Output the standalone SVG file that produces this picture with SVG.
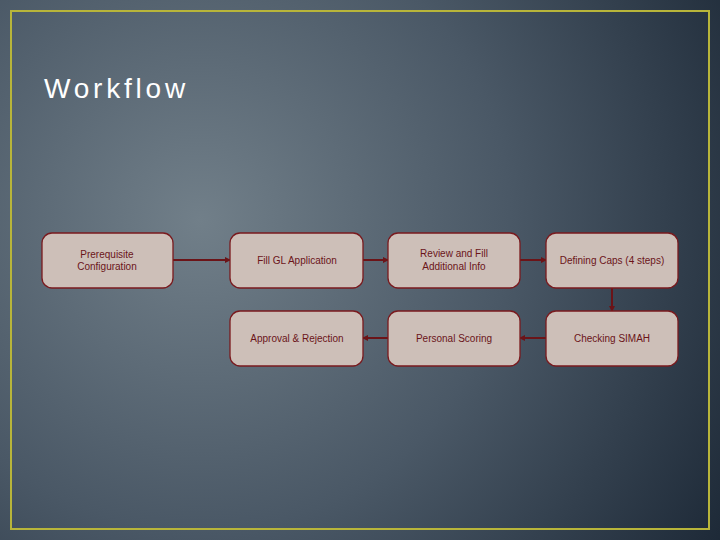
<svg xmlns="http://www.w3.org/2000/svg" width="720" height="540" viewBox="0 0 720 540">
<defs>
<radialGradient id="bg" cx="200" cy="220" r="620" gradientUnits="userSpaceOnUse">
<stop offset="0" stop-color="#717f89"/>
<stop offset="0.5" stop-color="#4a5866"/>
<stop offset="1" stop-color="#1c2836"/>
</radialGradient>
<marker id="ah" markerWidth="6" markerHeight="6" refX="5" refY="3" orient="auto" markerUnits="userSpaceOnUse">
<path d="M0,0 L6,3 L0,6 Z" fill="#6b1418"/>
</marker>
<style>
.n rect{fill:#cdbfb8;stroke:#7a1a1e;stroke-width:1.3}
.n text{font-family:"Liberation Sans",Arial,sans-serif;font-size:10px;fill:#6b1418;text-anchor:middle}
.c line{stroke:#6b1418;stroke-width:2;marker-end:url(#ah)}
</style>
</defs>
<rect width="720" height="540" fill="url(#bg)"/>
<rect x="11" y="11" width="698" height="518" fill="none" stroke="#b8b53a" stroke-width="2"/>
<text x="44" y="98" font-family="Liberation Sans,Arial,sans-serif" font-size="28" fill="#ffffff" letter-spacing="3.8">Workflow</text>
<g class="c">
<line x1="173" y1="260" x2="230" y2="260"/>
<line x1="363" y1="260" x2="388" y2="260"/>
<line x1="520" y1="260" x2="546" y2="260"/>
<line x1="612" y1="288" x2="612" y2="311"/>
<line x1="546" y1="338" x2="520" y2="338"/>
<line x1="388" y1="338" x2="363" y2="338"/>
</g>
<g id="n1" class="n"><rect x="42" y="233" width="131" height="55" rx="10"/><text x="107" y="258">Prerequisite</text><text x="107" y="270">Configuration</text></g>
<g id="n2" class="n"><rect x="230" y="233" width="133" height="55" rx="10"/><text x="297" y="264">Fill GL Application</text></g>
<g id="n3" class="n"><rect x="388" y="233" width="132" height="55" rx="10"/><text x="454" y="257">Review and Fill</text><text x="454" y="270">Additional Info</text></g>
<g id="n4" class="n"><rect x="546" y="233" width="132" height="55" rx="10"/><text x="612" y="264">Defining Caps (4 steps)</text></g>
<g id="n5" class="n"><rect x="546" y="311" width="132" height="55" rx="10"/><text x="612" y="342">Checking SIMAH</text></g>
<g id="n6" class="n"><rect x="388" y="311" width="132" height="55" rx="10"/><text x="454" y="342">Personal Scoring</text></g>
<g id="n7" class="n"><rect x="230" y="311" width="133" height="55" rx="10"/><text x="297" y="342">Approval &amp; Rejection</text></g>
</svg>
